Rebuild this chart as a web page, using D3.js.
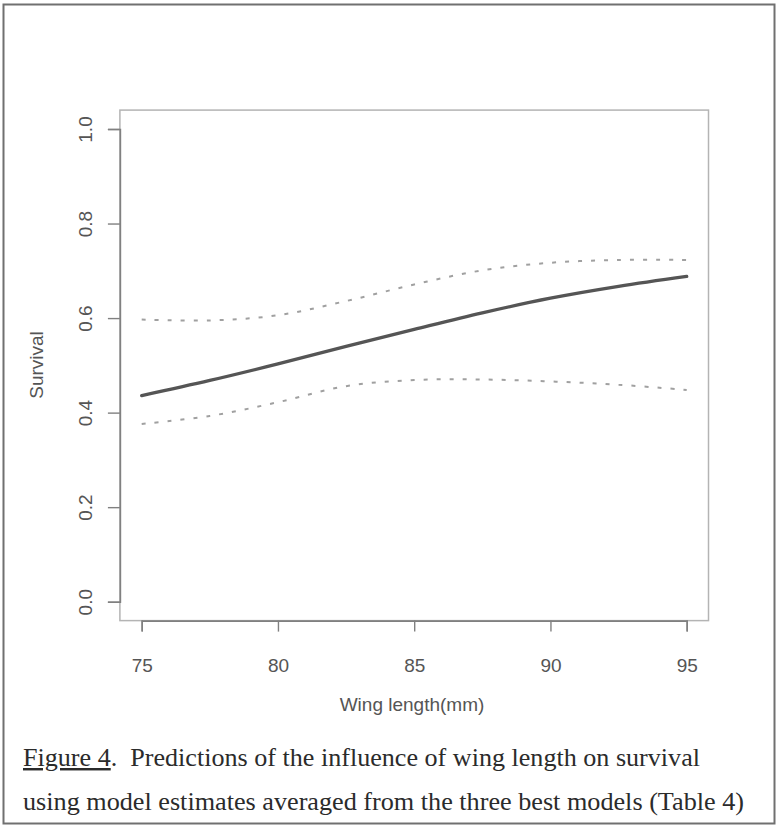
<!DOCTYPE html>
<html>
<head>
<meta charset="utf-8">
<script src="https://cdn.jsdelivr.net/npm/d3@7"></script>
<style>
  html, body { margin: 0; padding: 0; background: #ffffff; }
  svg { display: block; }
</style>
</head>
<body>
<svg id="fig" width="778" height="826"></svg>
<script>
// Wing length (mm) at which survival predictions are drawn
const wingLength = [75, 77.5, 80, 82.5, 85, 87.5, 90, 92.5, 95];
// Model-averaged survival estimate
const survivalFit = [0.436, 0.468, 0.503, 0.540, 0.576, 0.611, 0.642, 0.667, 0.688];
// Upper and lower confidence limits
const upperCI = [0.597, 0.595, 0.606, 0.636, 0.671, 0.701, 0.717, 0.723, 0.723];
const lowerCI = [0.376, 0.393, 0.422, 0.456, 0.469, 0.470, 0.466, 0.459, 0.448];

const xTicks = [75, 80, 85, 90, 95];
const yTicks = [0.0, 0.2, 0.4, 0.6, 0.8, 1.0];
const xLabel = "Wing length(mm)";
const yLabel = "Survival";
const captionLine1 = ["Figure 4", ".  Predictions of the influence of wing length on survival"];
const captionLine2 = "using model estimates averaged from the three best models (Table 4)";

const sans = "\"Liberation Sans\", Arial, Helvetica, sans-serif";
const serif = "\"Liberation Serif\", \"Times New Roman\", Times, serif";

const svg = d3.select("#fig");

// outer frame around figure and caption
svg.append("rect")
  .attr("x", 3.5).attr("y", 4.5).attr("width", 771).attr("height", 819)
  .attr("fill", "none").attr("stroke", "#707070").attr("stroke-width", 2);

const x = d3.scaleLinear().domain([75, 95]).range([141.7, 686.7]);
const y = d3.scaleLinear().domain([0, 1]).range([601.7, 129]);

// plot box with the usual 4% padding around the data range
const bx0 = x(74.2), bx1 = x(95.8), by0 = y(1.04), by1 = y(-0.04);
svg.append("rect")
  .attr("x", bx0).attr("y", by0).attr("width", bx1 - bx0).attr("height", by1 - by0)
  .attr("fill", "none").attr("stroke", "#b4b4b4").attr("stroke-width", 1.5);

// x axis
const xAxis = svg.append("g")
  .attr("transform", `translate(0,${by1})`)
  .call(d3.axisBottom(x).tickValues(xTicks).tickSize(11).tickPadding(27).tickFormat(d3.format("d")));
xAxis.attr("font-family", sans).attr("font-size", 19);
xAxis.select(".domain").attr("stroke", "#808080").attr("stroke-width", 1.6);
xAxis.selectAll(".tick line").attr("stroke", "#808080").attr("stroke-width", 1.4);
xAxis.selectAll(".tick text").attr("fill", "#555");

// y axis with rotated tick labels
const yAxis = svg.append("g")
  .attr("transform", `translate(${bx0},0)`)
  .call(d3.axisLeft(y).tickValues(yTicks).tickSize(12).tickFormat(d3.format(".1f")));
yAxis.attr("font-family", sans).attr("font-size", 19);
yAxis.select(".domain").attr("stroke", "#808080").attr("stroke-width", 1.6);
yAxis.selectAll(".tick line").attr("stroke", "#808080").attr("stroke-width", 1.4);
yAxis.selectAll(".tick text")
  .attr("fill", "#555")
  .attr("x", 0).attr("dy", null).attr("text-anchor", "middle")
  .attr("transform", `translate(${92 - bx0},0) rotate(-90)`);

// axis titles
svg.append("text")
  .attr("x", 412).attr("y", 711).attr("text-anchor", "middle")
  .attr("font-family", sans).attr("font-size", 19).attr("fill", "#555")
  .text(xLabel);
svg.append("text")
  .attr("transform", "translate(43,365) rotate(-90)").attr("text-anchor", "middle")
  .attr("font-family", sans).attr("font-size", 19).attr("fill", "#555")
  .text(yLabel);

// curves
const line = (vals) => d3.line()
  .x((d, i) => x(wingLength[i]))
  .y(d => y(d))
  .curve(d3.curveCatmullRom)(vals);

svg.append("path").attr("d", line(upperCI))
  .attr("fill", "none").attr("stroke", "#a0a0a0").attr("stroke-width", 2)
  .attr("stroke-dasharray", "4,9");
svg.append("path").attr("d", line(lowerCI))
  .attr("fill", "none").attr("stroke", "#a0a0a0").attr("stroke-width", 2)
  .attr("stroke-dasharray", "4,9");
svg.append("path").attr("d", line(survivalFit))
  .attr("fill", "none").attr("stroke", "#555").attr("stroke-width", 3.3)
  .attr("stroke-linecap", "round");

// caption: two lines of serif text, "Figure 4" underlined
const cap1 = svg.append("text")
  .attr("x", 23).attr("y", 766)
  .attr("font-family", serif).attr("font-size", 24.5).attr("fill", "#2b2b2b")
  .style("white-space", "pre")
  .attr("textLength", 677).attr("lengthAdjust", "spacingAndGlyphs");
cap1.append("tspan").style("text-decoration", "underline").text(captionLine1[0]);
cap1.append("tspan").text(captionLine1[1]);

svg.append("text")
  .attr("x", 23).attr("y", 810)
  .attr("font-family", serif).attr("font-size", 24.5).attr("fill", "#2b2b2b")
  .attr("textLength", 721).attr("lengthAdjust", "spacingAndGlyphs")
  .text(captionLine2);
</script>
</body>
</html>
